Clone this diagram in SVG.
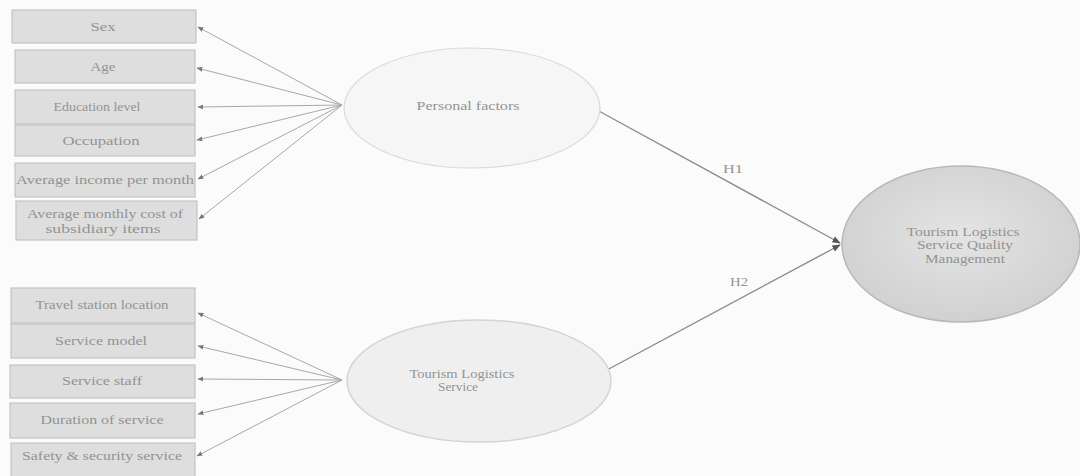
<svg xmlns="http://www.w3.org/2000/svg" width="1080" height="476" viewBox="0 0 1080 476">
<style>
.box{fill:#dedede;stroke:#c4c4c4;stroke-width:1.2}
.t{font-family:"Liberation Serif",serif;font-size:12px;fill:#939393;text-anchor:middle}
.c{stroke:#a8a8a8;stroke-width:1;fill:none;marker-end:url(#ah)}
.c2{stroke:#8c8c8c;stroke-width:1.4;fill:none;marker-end:url(#ah2)}
</style>
<defs>
<marker id="ah" viewBox="0 0 10 10" refX="9" refY="5" markerWidth="6" markerHeight="6" orient="auto"><path d="M0,1 L10,5 L0,9 z" fill="#777"/></marker>
<marker id="ah2" viewBox="0 0 10 10" refX="9" refY="5" markerWidth="6" markerHeight="6" orient="auto"><path d="M0,1 L10,5 L0,9 z" fill="#555"/></marker>
<radialGradient id="g3" cx="50%" cy="45%" r="60%"><stop offset="0" stop-color="#e4e4e4"/><stop offset="1" stop-color="#cfcfcf"/></radialGradient>
</defs>
<rect width="1080" height="476" fill="#fbfbfb"/>
<g id="connectors">
<line class="c" x1="342" y1="105" x2="198" y2="27"/>
<line class="c" x1="342" y1="105" x2="197" y2="68"/>
<line class="c" x1="342" y1="105" x2="198" y2="107"/>
<line class="c" x1="342" y1="105" x2="197" y2="140"/>
<line class="c" x1="342" y1="105" x2="198" y2="179"/>
<line class="c" x1="342" y1="105" x2="199" y2="219"/>
<line class="c" x1="342" y1="380" x2="198" y2="313"/>
<line class="c" x1="342" y1="380" x2="198" y2="346"/>
<line class="c" x1="342" y1="380" x2="198" y2="379"/>
<line class="c" x1="342" y1="380" x2="198" y2="414"/>
<line class="c" x1="342" y1="380" x2="197" y2="456"/>
<line class="c2" x1="597" y1="110" x2="840" y2="243"/>
<line class="c2" x1="592" y1="378" x2="840" y2="245"/>
<text class="t" x="733" y="173" font-size="9" textLength="20" lengthAdjust="spacingAndGlyphs">H1</text>
<text class="t" x="739" y="286" font-size="9" textLength="18" lengthAdjust="spacingAndGlyphs">H2</text>
</g>
<g id="sex"><rect class="box" x="12" y="10" width="184" height="33"/><text class="t" x="103" y="31" textLength="25" lengthAdjust="spacingAndGlyphs">Sex</text></g>
<g id="age"><rect class="box" x="15" y="50" width="180" height="33"/><text class="t" x="103" y="71" textLength="25" lengthAdjust="spacingAndGlyphs">Age</text></g>
<g id="education"><rect class="box" x="15" y="90" width="180" height="34"/><text class="t" x="97" y="111" textLength="87" lengthAdjust="spacingAndGlyphs">Education level</text></g>
<g id="occupation"><rect class="box" x="15" y="125" width="180" height="31"/><text class="t" x="101" y="145" textLength="77" lengthAdjust="spacingAndGlyphs">Occupation</text></g>
<g id="income"><rect class="box" x="15" y="163" width="180" height="34"/><text class="t" x="105" y="184" textLength="178" lengthAdjust="spacingAndGlyphs">Average income per month</text></g>
<g id="cost"><rect class="box" x="16" y="201" width="181" height="39"/><text class="t" x="105" y="218" textLength="156" lengthAdjust="spacingAndGlyphs">Average monthly cost of</text><text class="t" x="103" y="233" textLength="115" lengthAdjust="spacingAndGlyphs">subsidiary items</text></g>
<g id="station"><rect class="box" x="11" y="288" width="184" height="35"/><text class="t" x="102" y="309" textLength="133" lengthAdjust="spacingAndGlyphs">Travel station location</text></g>
<g id="model"><rect class="box" x="11" y="324" width="184" height="34"/><text class="t" x="101" y="345" textLength="92" lengthAdjust="spacingAndGlyphs">Service model</text></g>
<g id="staff"><rect class="box" x="10" y="365" width="185" height="33"/><text class="t" x="102" y="385" textLength="80" lengthAdjust="spacingAndGlyphs">Service staff</text></g>
<g id="duration"><rect class="box" x="10" y="403" width="185" height="35"/><text class="t" x="102" y="424" textLength="123" lengthAdjust="spacingAndGlyphs">Duration of service</text></g>
<g id="safety"><rect class="box" x="11" y="443" width="184" height="36"/><text class="t" x="102" y="460" textLength="160" lengthAdjust="spacingAndGlyphs">Safety &amp; security service</text></g>
<g id="personal"><ellipse cx="472" cy="108" rx="128" ry="60" fill="#f6f6f6" stroke="#dadada" stroke-width="1.2"/><text class="t" x="468" y="110" textLength="103" lengthAdjust="spacingAndGlyphs">Personal factors</text></g>
<g id="tls"><ellipse cx="479" cy="381" rx="132" ry="61" fill="#efefef" stroke="#d4d4d4" stroke-width="1.5"/><text class="t" x="462" y="378" textLength="105" lengthAdjust="spacingAndGlyphs">Tourism Logistics</text><text class="t" x="458" y="391" textLength="40" lengthAdjust="spacingAndGlyphs">Service</text></g>
<g id="tlsqm"><ellipse cx="961" cy="244" rx="119" ry="78" fill="url(#g3)" stroke="#b8b8b8" stroke-width="1.5"/><text class="t" x="963" y="236" textLength="113" lengthAdjust="spacingAndGlyphs">Tourism Logistics</text><text class="t" x="965" y="249" textLength="96" lengthAdjust="spacingAndGlyphs">Service Quality</text><text class="t" x="965" y="263" textLength="80" lengthAdjust="spacingAndGlyphs">Management</text></g>
</svg>
